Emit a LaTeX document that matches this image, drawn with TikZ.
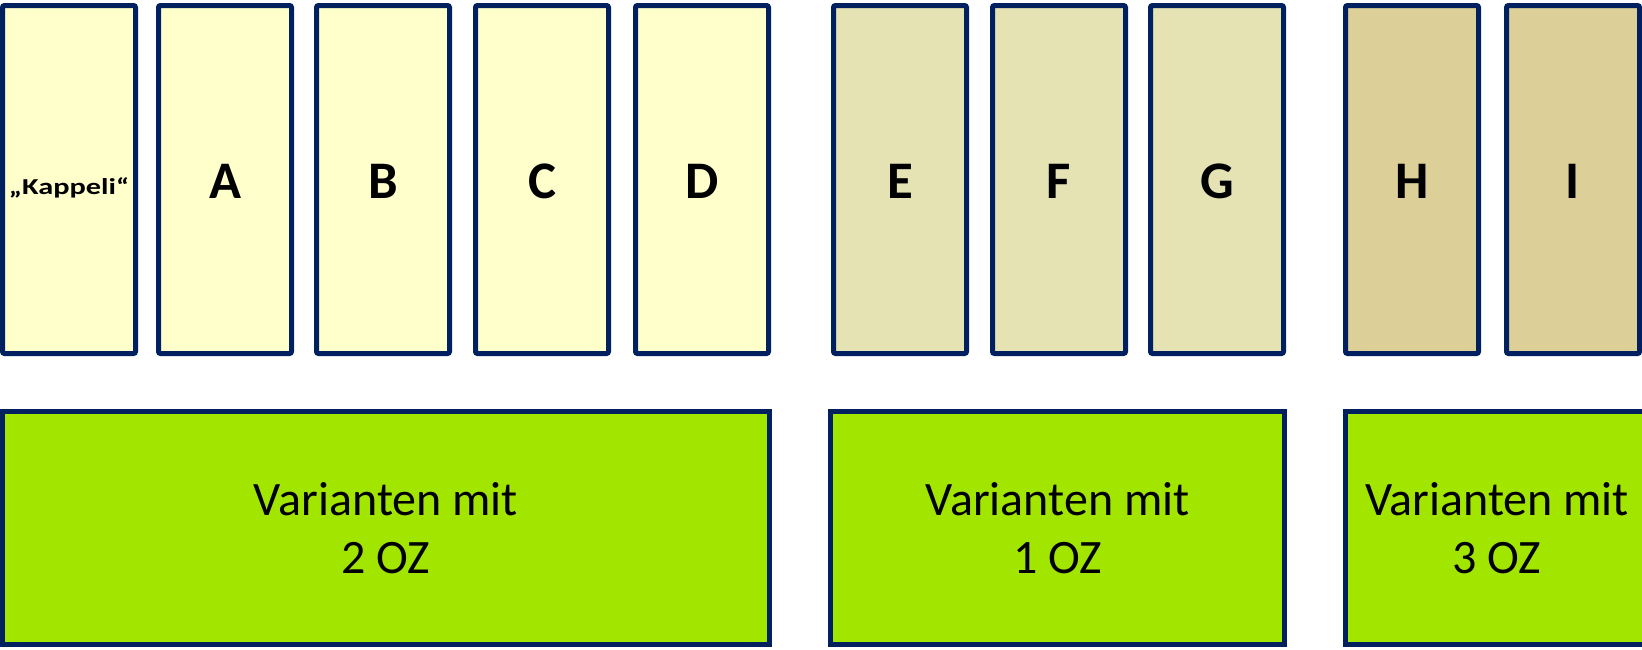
\documentclass[tikz,border=0pt]{standalone}
\usepackage{fontspec}
\usepackage{graphicx}
\setmainfont{Carlito}
\definecolor{navy}{HTML}{002060}
\definecolor{pale}{HTML}{FFFFCC}
\definecolor{khaki}{HTML}{E5E3B4}
\definecolor{sand}{HTML}{DCCF97}
\definecolor{lime}{HTML}{A2E600}
\tikzset{
	col/.style={draw=navy,line width=2.5pt,rounded corners=1pt,minimum width=66.5pt,minimum height=174pt,inner sep=0pt,text height=18.5pt,text depth=0pt,font=\fontsize{26.4}{28}\selectfont\bfseries},
	var/.style={draw=navy,line width=2.5pt,fill=lime,minimum height=116.5pt,inner sep=0pt,align=center,font=\fontsize{24}{29}\selectfont}
}
\begin{document}
\begin{tikzpicture}[x=0.5pt,y=0.5pt,yscale=-1]
		\useasboundingbox (0,0) rectangle (1642,649);
		% top row
		\node[col,fill=pale,text height=20pt,text depth=5.5pt] (kap) at (69,179.5) {\fontsize{11.4}{13}\selectfont\scalebox{1.33}[1]{„Kappeli“}};
		\node[col,fill=pale] (a) at (225,179.5) {A};
		\node[col,fill=pale] (b) at (383,179.5) {B};
		\node[col,fill=pale] (c) at (542,179.5) {C};
		\node[col,fill=pale] (d) at (702,179.5) {D};
		\node[col,fill=khaki] (e) at (900,179.5) {E};
		\node[col,fill=khaki] (f) at (1059,179.5) {F};
		\node[col,fill=khaki] (g) at (1217,179.5) {G};
		\node[col,fill=sand] (h) at (1412,179.5) {H};
		\node[col,fill=sand] (i) at (1573,179.5) {I};
		
		% bottom row
		\node[var,minimum width=383.5pt] (zwei) at (386,528) {Varianten mit\\2 OZ};
		\node[var,minimum width=227pt] (eins) at (1057.5,528) {Varianten mit\\1 OZ};
		\node[var,minimum width=151.5pt] (drei) at (1497,528) {Varianten mit\\3 OZ};
\end{tikzpicture}
\end{document}
